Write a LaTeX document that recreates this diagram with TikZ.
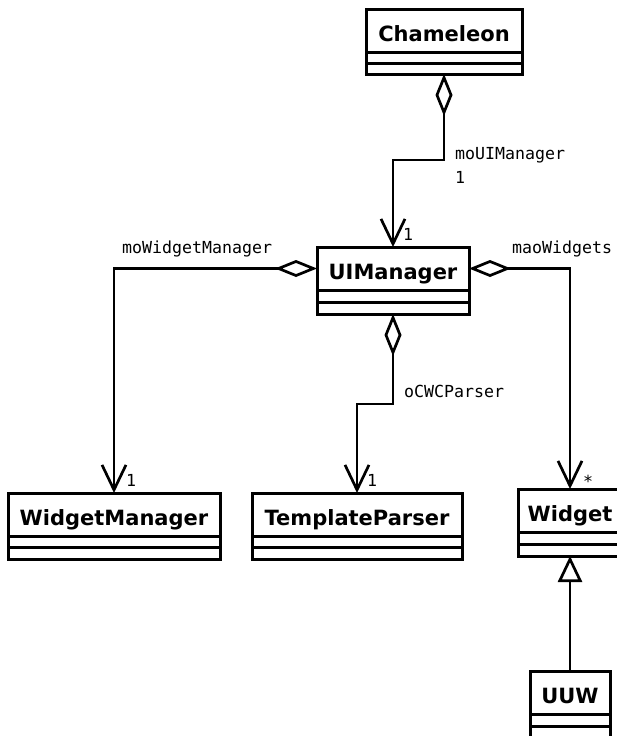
\documentclass[tikz,border=0pt]{standalone}
\usepackage{fontspec}
\setsansfont{DejaVu Sans}
\setmonofont{DejaVu Sans Mono}
\usetikzlibrary{arrows.meta}
\newcommand\umlclass[6]{%
  \node[clsname, minimum width=#4] (#1) at (#2,#3) {#5};
  \draw[boxl] (#1.south west) rectangle ([yshift=-2*#6]#1.south east);
  \draw[boxl] ([yshift=-#6]#1.south west) -- ([yshift=-#6]#1.south east);
  \coordinate (#1-b) at ([yshift=-2*#6]#1.south);
}
\tikzset{
  clsname/.style={draw, line width=3pt, anchor=north, inner sep=0pt, outer sep=0pt,
    minimum height=43pt, text height=32pt, text depth=11pt,
    font=\sffamily\bfseries\fontsize{21}{25}\selectfont},
  boxl/.style={line width=3pt},
  agg/.style={line width=2.7pt, line join=miter,
    {Diamond[open,length=42pt,width=17pt]}-{Straight Barb[length=25pt,width=24pt]}},
  inh/.style={line width=2.7pt, -{Triangle[open,length=26pt,width=24pt]}},
  lbl/.style={anchor=base west, inner sep=0pt,
    font=\ttfamily\fontsize{16.6}{20}\selectfont},
}
\begin{document}
\begin{tikzpicture}[x=1pt,y=-1pt]
\useasboundingbox (0,0) rectangle (617,736);
\umlclass{cham}{444}{9}{156pt}{Chameleon}{11pt}
\umlclass{uim}{393}{247}{152pt}{UIManager}{12pt}
\umlclass{wm}{114}{493}{212pt}{WidgetManager}{11.5pt}
\umlclass{tp}{357}{493}{210pt}{TemplateParser}{11.5pt}
\umlclass{wdg}{570}{489}{104pt}{Widget}{12pt}
\umlclass{uuw}{570}{671}{80pt}{UUW}{12pt}

\coordinate (k1) at (444,160);
\coordinate (k2) at (393,404);
\draw[agg] (cham-b) -- (k1) -| (uim.north);
\draw[agg] (uim.west) -| (wm.north);
\draw[agg] (uim.east) -| (wdg.north);
\draw[agg] (uim-b) -- (k2) -| (tp.north);
\draw[inh] (uuw.north) -- (wdg-b);

\node[lbl] (l1) at (455,159) {moUIManager};
\node[lbl] (l1m) at (455,183) {1};
\node[lbl] (l2) at (122,253) {moWidgetManager};
\node[lbl] (l3) at (512,253) {maoWidgets};
\node[lbl] (l4) at (404,397) {oCWCParser};
\node[lbl] (m1) at (403,240) {1};
\node[lbl] (m2) at (126,486) {1};
\node[lbl] (m3) at (367,486) {1};
\node[lbl] (m4) at (583,487) {*};
\end{tikzpicture}
\end{document}
